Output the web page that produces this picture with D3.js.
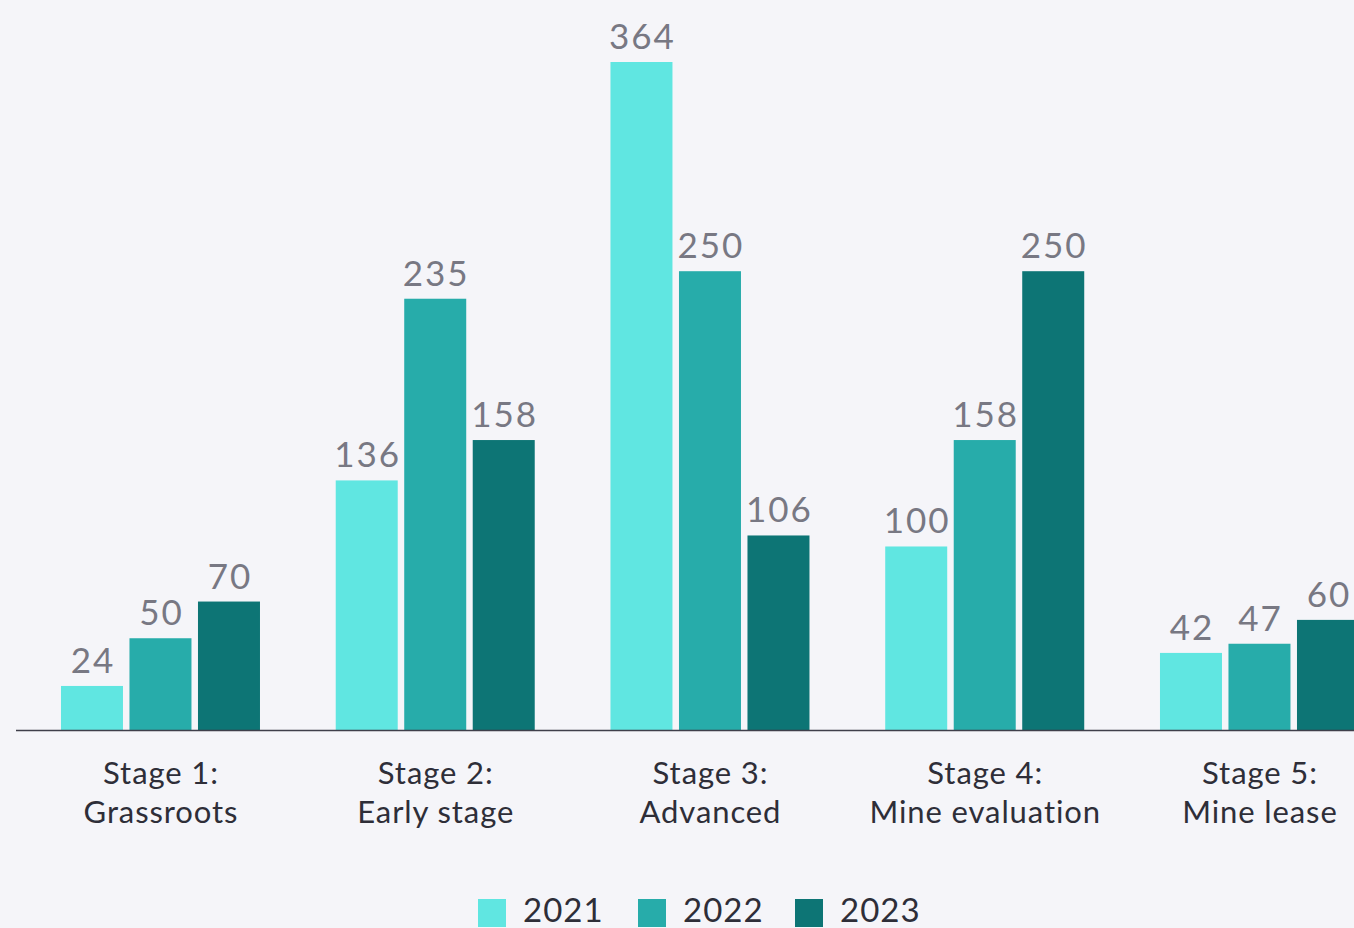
<!DOCTYPE html>
<html>
<head>
<meta charset="utf-8">
<script src="https://cdn.jsdelivr.net/npm/d3@7"></script>
<style>
  html, body { margin: 0; padding: 0; background: #f5f5f9; overflow: hidden; }
  svg { display: block; }
</style>
</head>
<body>
<svg id="chart" width="1354" height="928"></svg>
<script>
// Project counts by development stage
const stages = [
  ["Stage 1:", "Grassroots"],
  ["Stage 2:", "Early stage"],
  ["Stage 3:", "Advanced"],
  ["Stage 4:", "Mine evaluation"],
  ["Stage 5:", "Mine lease"]
];
const years = ["2021", "2022", "2023"];
const values2021 = [24, 136, 364, 100, 42];
const values2022 = [50, 235, 250, 158, 47];
const values2023 = [70, 158, 106, 250, 60];
const seriesValues = [values2021, values2022, values2023];
const colors = ["#60e6e1", "#27acaa", "#0d7575"];

const W = 1354, H = 928;
const baseY = 730, topY = 62;
const FONT = "Lato, 'Noto Sans', sans-serif";

const svg = d3.select("#chart");
svg.append("rect").attr("width", W).attr("height", H).attr("fill", "#f5f5f9");

const stageKeys = stages.map((d, i) => "s" + i);

const x0 = d3.scaleBand()
  .domain(stageKeys)
  .range([23.1, 23.1 + 5 * 274.75])
  .paddingInner(0.2757)
  .paddingOuter(0.13785);

const x1 = d3.scaleBand()
  .domain(years)
  .range([0, x0.bandwidth()])
  .paddingInner(0.095)
  .paddingOuter(0);

const y = d3.scaleLinear().domain([0, 364]).range([baseY, topY]);

const rows = stageKeys.map((k, i) => ({
  key: k,
  items: years.map((yr, j) => ({ year: yr, value: seriesValues[j][i], color: colors[j] }))
}));

const groups = svg.selectAll("g.stage")
  .data(rows)
  .join("g")
  .attr("class", "stage")
  .attr("transform", d => `translate(${x0(d.key)},0)`);

groups.selectAll("rect")
  .data(d => d.items)
  .join("rect")
  .attr("x", d => x1(d.year))
  .attr("y", d => y(d.value))
  .attr("width", x1.bandwidth())
  .attr("height", d => baseY - y(d.value))
  .attr("fill", d => d.color);

groups.selectAll("text.val")
  .data(d => d.items)
  .join("text")
  .attr("class", "val")
  .attr("x", d => x1(d.year) + x1.bandwidth() / 2 + 1)
  .attr("y", d => y(d.value) - 13)
  .attr("text-anchor", "middle")
  .attr("font-family", FONT)
  .attr("font-weight", 400)
  .attr("font-size", 35)
  .attr("letter-spacing", 2)
  .attr("fill", "#787883")
  .text(d => d.value);

// Baseline axis
const xAxis = d3.axisBottom(x0).tickSize(0).tickFormat("");
const axisG = svg.append("g").attr("transform", `translate(0,${baseY})`).call(xAxis);
axisG.select(".domain")
  .attr("d", `M16,0.5H${W}`)
  .attr("stroke", "#3f3f4a")
  .attr("stroke-width", 1.5);

// Category labels, two lines each
const labelG = svg.append("g");
stageKeys.forEach((k, i) => {
  const cx = x0(k) + x0.bandwidth() / 2 + 0.5;
  const t = labelG.append("text")
    .attr("text-anchor", "middle")
    .attr("font-family", FONT)
    .attr("font-size", 31)
    .attr("letter-spacing", 0.9)
    .attr("fill", "#2e2e38");
  t.append("tspan").attr("x", cx).attr("y", 784).text(stages[i][0]);
  t.append("tspan").attr("x", cx).attr("y", 823).text(stages[i][1]);
});

// Legend
const legendX = [478, 638, 795];
const legend = svg.append("g");
years.forEach((yr, j) => {
  legend.append("rect")
    .attr("x", legendX[j]).attr("y", 899)
    .attr("width", 28).attr("height", 28)
    .attr("fill", colors[j]);
  legend.append("text")
    .attr("x", legendX[j] + 45).attr("y", 922)
    .attr("font-family", FONT)
    .attr("font-size", 33)
    .attr("letter-spacing", 1)
    .attr("fill", "#2e2e38")
    .text(yr);
});
</script>
</body>
</html>
